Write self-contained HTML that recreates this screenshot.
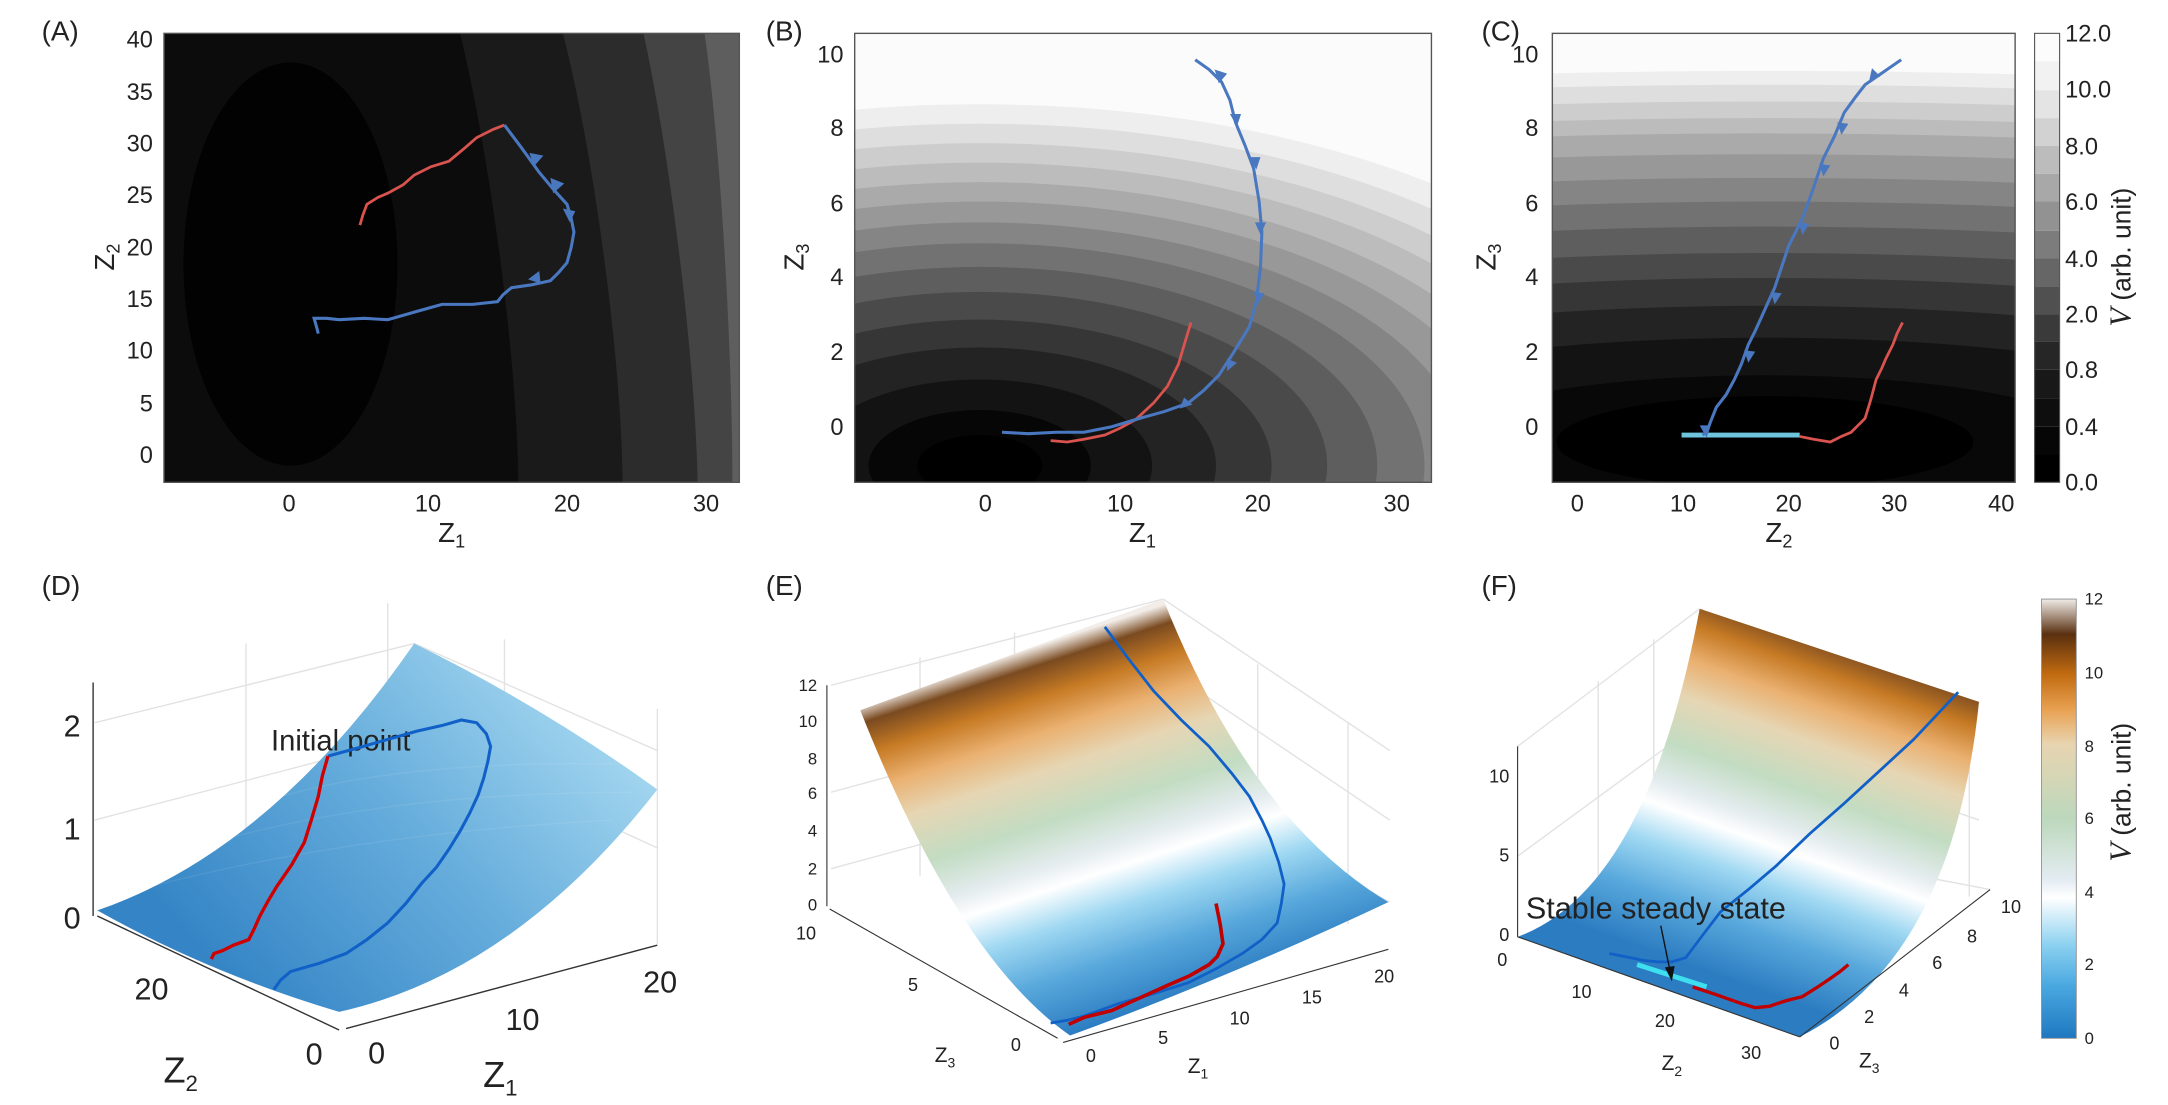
<!DOCTYPE html>
<html><head><meta charset="utf-8"><style>html,body{margin:0;padding:0;background:#fff}svg{display:block}text{font-family:"Liberation Sans Narrow","Liberation Sans",sans-serif;fill:#222}</style></head><body>
<svg width="2168" height="1105" viewBox="0 0 1560 795" preserveAspectRatio="none" xmlns="http://www.w3.org/2000/svg">
<defs>
<clipPath id="ca"><rect x="118" y="24" width="414" height="323"/></clipPath>
<clipPath id="cb"><rect x="615" y="24" width="415" height="323"/></clipPath>
<clipPath id="cc"><rect x="1117" y="24" width="333" height="323"/></clipPath>
<linearGradient id="gd" gradientUnits="userSpaceOnUse" x1="420" y1="480" x2="170" y2="710"><stop offset="0" stop-color="#a9daf1"/><stop offset="0.5" stop-color="#66addc"/><stop offset="1" stop-color="#3585c6"/></linearGradient>
<linearGradient id="ge" gradientUnits="userSpaceOnUse" x1="745" y1="465" x2="830" y2="725"><stop offset="0" stop-color="#f2ede8"/><stop offset="0.05" stop-color="#7a4a20"/><stop offset="0.13" stop-color="#c67a24"/><stop offset="0.22" stop-color="#eab070"/><stop offset="0.32" stop-color="#e6d6b4"/><stop offset="0.45" stop-color="#c2dcc2"/><stop offset="0.56" stop-color="#e4ecef"/><stop offset="0.62" stop-color="#ffffff"/><stop offset="0.72" stop-color="#9fd8f2"/><stop offset="0.85" stop-color="#58a8dc"/><stop offset="1" stop-color="#2c7cc2"/></linearGradient>
<linearGradient id="gf" gradientUnits="userSpaceOnUse" x1="1335" y1="455" x2="1245" y2="705"><stop offset="0" stop-color="#f2ede8"/><stop offset="0.05" stop-color="#7a4a20"/><stop offset="0.13" stop-color="#c67a24"/><stop offset="0.22" stop-color="#eab070"/><stop offset="0.32" stop-color="#e6d6b4"/><stop offset="0.45" stop-color="#c2dcc2"/><stop offset="0.56" stop-color="#e4ecef"/><stop offset="0.62" stop-color="#ffffff"/><stop offset="0.72" stop-color="#9fd8f2"/><stop offset="0.85" stop-color="#58a8dc"/><stop offset="1" stop-color="#2c7cc2"/></linearGradient>
<linearGradient id="gcb" x1="0" y1="0" x2="0" y2="1"><stop offset="0" stop-color="#f0ece8"/><stop offset="0.08" stop-color="#5a3010"/><stop offset="0.17" stop-color="#c06a10"/><stop offset="0.25" stop-color="#e8a050"/><stop offset="0.33" stop-color="#e8d4b0"/><stop offset="0.5" stop-color="#bcd8bc"/><stop offset="0.64" stop-color="#e4ecf2"/><stop offset="0.68" stop-color="#ffffff"/><stop offset="0.79" stop-color="#8ad0f0"/><stop offset="0.88" stop-color="#4aa8e0"/><stop offset="1" stop-color="#1f78c0"/></linearGradient>
</defs>

<!-- Panel A -->
<text x="30" y="29" font-size="20">(A)</text>
<g clip-path="url(#ca)">
<rect x="118" y="24" width="414" height="323" fill="#0c0c0c"/>
<ellipse cx="209" cy="190" rx="77" ry="145" fill="#020202"/>
<path d="M331,24 C350,100 372,250 373,347 L540,347 L540,24Z" fill="#1a1a1a"/>
<path d="M405,24 C425,100 447,250 448,347 L540,347 L540,24Z" fill="#2c2c2c"/>
<path d="M463,24 C480,100 500,250 502,347 L540,347 L540,24Z" fill="#444"/>
<path d="M507,24 C518,100 527,250 527,347 L540,347 L540,24Z" fill="#5e5e5e"/>
</g>
<rect x="118" y="24" width="414" height="323" fill="none" stroke="#555" stroke-width="1"/>
<g font-size="17" text-anchor="end"><text x="110" y="34">40</text><text x="110" y="72">35</text><text x="110" y="109">30</text><text x="110" y="146">25</text><text x="110" y="184">20</text><text x="110" y="221">15</text><text x="110" y="258">10</text><text x="110" y="296">5</text><text x="110" y="333">0</text></g>
<g font-size="17" text-anchor="middle"><text x="208" y="368">0</text><text x="308" y="368">10</text><text x="408" y="368">20</text><text x="508" y="368">30</text></g>
<text x="325" y="390" font-size="20" text-anchor="middle">Z<tspan font-size="13" dy="4">1</tspan></text>
<text transform="translate(82,185) rotate(-90)" font-size="20" text-anchor="middle">Z<tspan font-size="13" dy="4">2</tspan></text>
<polyline fill="none" stroke="#d9534f" stroke-width="2" points="363,90 355,93 343,99 335,106 323,116 310,120 298,126 290,133 279,139 272,142 264,147 261,155 259,162"/>
<polyline fill="none" stroke="#4a78c0" stroke-width="2.2" points="363,90 375,106 388,124 398,136 408,147 411,157 413,167 411,178 408,189 402,196 396,202 382,205 368,207 362,212 358,217 340,219 318,219 300,224 279,230 262,229 244,230 235,229 226,229 228,236 229,240"/>
<g fill="#4a78c0"><path d="M381,110 l10,2 -7,8z"/><path d="M396,128 l10,4 -8,7z"/><path d="M405,150 l9,2 -4,8z"/><path d="M380,201 l8,-6 1,9z"/></g>

<!-- Panel B -->
<text x="551" y="29" font-size="20">(B)</text>
<g clip-path="url(#cb)">
<rect x="615" y="24" width="415" height="323" fill="#fbfbfb"/>
<g transform="translate(705,335)">
<ellipse rx="520" ry="260" fill="#eeeeee"/><ellipse rx="492" ry="246" fill="#dedede"/><ellipse rx="464" ry="232" fill="#cdcdcd"/><ellipse rx="436" ry="218" fill="#bcbcbc"/><ellipse rx="408" ry="204" fill="#aaaaaa"/><ellipse rx="380" ry="190" fill="#989898"/><ellipse rx="350" ry="175" fill="#858585"/><ellipse rx="320" ry="160" fill="#727272"/><ellipse rx="286" ry="143" fill="#5e5e5e"/><ellipse rx="250" ry="125" fill="#4a4a4a"/><ellipse rx="210" ry="105" fill="#363636"/><ellipse rx="170" ry="85" fill="#232323"/><ellipse rx="124" ry="62" fill="#131313"/><ellipse rx="80" ry="40" fill="#060606"/><ellipse rx="45" ry="22" fill="#000"/>
</g></g>
<rect x="615" y="24" width="415" height="323" fill="none" stroke="#555" stroke-width="1"/>
<g font-size="17" text-anchor="end"><text x="607" y="45">10</text><text x="607" y="98">8</text><text x="607" y="152">6</text><text x="607" y="205">4</text><text x="607" y="259">2</text><text x="607" y="313">0</text></g>
<g font-size="17" text-anchor="middle"><text x="709" y="368">0</text><text x="806" y="368">10</text><text x="905" y="368">20</text><text x="1005" y="368">30</text></g>
<text x="822" y="390" font-size="20" text-anchor="middle">Z<tspan font-size="13" dy="4">1</tspan></text>
<text transform="translate(578,185) rotate(-90)" font-size="20" text-anchor="middle">Z<tspan font-size="13" dy="4">3</tspan></text>
<polyline fill="none" stroke="#d9534f" stroke-width="2" points="857,232 853,245 848,262 840,278 830,290 817,302 806,308 795,313 780,316 768,318 756,317"/>
<polyline fill="none" stroke="#4a78c0" stroke-width="2.2" points="860,43 870,50 879,59 885,72 889,88 896,105 902,121 906,145 908,167 907,192 904,217 899,235 888,253 877,270 866,281 855,290 838,296 820,301 800,307 780,311 760,311 740,312 721,311"/>
<g fill="#4a78c0"><path d="M874,50 l9,3 -6,7z"/><path d="M885,82 l8,0 -3,9z"/><path d="M899,113 l8,0 -3,9z"/><path d="M903,160 l8,0 -4,9z"/><path d="M902,210 l8,1 -5,8z"/><path d="M883,258 l7,3 -7,6z"/><path d="M852,286 l6,5 -9,3z"/></g>

<!-- Panel C -->
<text x="1066" y="29" font-size="20">(C)</text>
<g clip-path="url(#cc)">
<rect x="1117" y="24" width="333" height="323" fill="#fbfbfb"/>
<g transform="translate(1270,318)">
<ellipse rx="1335" ry="267" fill="#eeeeee"/><ellipse rx="1285" ry="257" fill="#dedede"/><ellipse rx="1225" ry="245" fill="#cdcdcd"/><ellipse rx="1165" ry="233" fill="#bcbcbc"/><ellipse rx="1110" ry="222" fill="#aaaaaa"/><ellipse rx="1035" ry="207" fill="#989898"/><ellipse rx="950" ry="190" fill="#858585"/><ellipse rx="865" ry="173" fill="#727272"/><ellipse rx="775" ry="155" fill="#5e5e5e"/><ellipse rx="680" ry="136" fill="#4a4a4a"/><ellipse rx="590" ry="118" fill="#363636"/><ellipse rx="490" ry="98" fill="#232323"/><ellipse rx="375" ry="75" fill="#131313"/><ellipse rx="240" ry="48" fill="#080808"/><ellipse rx="150" ry="33" fill="#000"/>
</g></g>
<rect x="1117" y="24" width="333" height="323" fill="none" stroke="#555" stroke-width="1"/>
<g font-size="17" text-anchor="end"><text x="1107" y="45">10</text><text x="1107" y="98">8</text><text x="1107" y="152">6</text><text x="1107" y="205">4</text><text x="1107" y="259">2</text><text x="1107" y="313">0</text></g>
<g font-size="17" text-anchor="middle"><text x="1135" y="368">0</text><text x="1211" y="368">10</text><text x="1287" y="368">20</text><text x="1363" y="368">30</text><text x="1440" y="368">40</text></g>
<text x="1280" y="390" font-size="20" text-anchor="middle">Z<tspan font-size="13" dy="4">2</tspan></text>
<text transform="translate(1076,185) rotate(-90)" font-size="20" text-anchor="middle">Z<tspan font-size="13" dy="4">3</tspan></text>
<line x1="1210" y1="313" x2="1295" y2="313" stroke="#6ec4dc" stroke-width="3.5"/>
<polyline fill="none" stroke="#d9534f" stroke-width="2" points="1295,314 1305,316 1317,318 1325,314 1332,311 1338,305 1342,301 1346,288 1350,273 1354,265 1357,258 1362,248 1365,240 1369,232"/>
<polyline fill="none" stroke="#4a78c0" stroke-width="2.2" points="1368,43 1355,52 1342,61 1335,70 1327,81 1320,98 1312,114 1305,135 1297,157 1292,167 1287,177 1282,192 1277,207 1272,218 1268,227 1263,238 1258,248 1253,262 1248,273 1242,284 1235,293 1231,303 1228,311 1225,313"/>
<g fill="#4a78c0"><path d="M1345,58 l2,-9 6,6z"/><path d="M1322,88 l8,1 -5,8z"/><path d="M1309,118 l8,1 -5,8z"/><path d="M1294,160 l8,1 -5,8z"/><path d="M1274,210 l8,1 -5,8z"/><path d="M1255,252 l8,1 -5,8z"/><path d="M1223,306 l8,0 -3,9z"/></g>
<!-- colorbar C -->
<g>
<rect x="1464" y="24" width="18" height="20" fill="#fcfcfc"/><rect x="1464" y="44" width="18" height="21" fill="#f2f2f2"/><rect x="1464" y="65" width="18" height="20" fill="#e4e4e4"/><rect x="1464" y="85" width="18" height="20" fill="#d2d2d2"/><rect x="1464" y="105" width="18" height="20" fill="#bcbcbc"/><rect x="1464" y="125" width="18" height="20" fill="#a8a8a8"/><rect x="1464" y="145" width="18" height="21" fill="#929292"/><rect x="1464" y="166" width="18" height="20" fill="#7c7c7c"/><rect x="1464" y="186" width="18" height="20" fill="#666"/><rect x="1464" y="206" width="18" height="20" fill="#505050"/><rect x="1464" y="226" width="18" height="20" fill="#3a3a3a"/><rect x="1464" y="246" width="18" height="20" fill="#262626"/><rect x="1464" y="266" width="18" height="21" fill="#181818"/><rect x="1464" y="287" width="18" height="20" fill="#0e0e0e"/><rect x="1464" y="307" width="18" height="20" fill="#060606"/><rect x="1464" y="327" width="18" height="20" fill="#000"/>
<rect x="1464" y="24" width="18" height="323" fill="none" stroke="#555" stroke-width="0.8"/>
</g>
<g font-size="17"><text x="1486" y="30">12.0</text><text x="1486" y="70">10.0</text><text x="1486" y="111">8.0</text><text x="1486" y="151">6.0</text><text x="1486" y="192">4.0</text><text x="1486" y="232">2.0</text><text x="1486" y="272">0.8</text><text x="1486" y="313">0.4</text><text x="1486" y="353">0.0</text></g>
<text transform="translate(1533,185) rotate(-90)" font-size="19" text-anchor="middle" style="font-family:'Liberation Sans',sans-serif"><tspan font-family="Liberation Serif" font-style="italic" font-size="22">V</tspan> (arb. unit)</text>

<!-- Panel D -->
<text x="30" y="428" font-size="20">(D)</text>
<g stroke="#e2e2e2" stroke-width="1" fill="none">
<line x1="177" y1="463" x2="177" y2="615"/><line x1="279" y1="434" x2="279" y2="560"/><line x1="363" y1="460" x2="363" y2="600"/><line x1="473" y1="510" x2="473" y2="679"/>
<line x1="68" y1="520" x2="298" y2="463"/><line x1="68" y1="590" x2="298" y2="530"/><line x1="298" y1="463" x2="473" y2="540"/><line x1="298" y1="530" x2="473" y2="610"/>
</g>
<path d="M70,655 Q195,612 298,463 Q390,508 473,568 Q370,700 244,728 Q150,700 70,655Z" fill="url(#gd)"/>
<g stroke="#fff" stroke-opacity="0.08" stroke-width="1" fill="none"><path d="M100,640 Q250,600 440,590"/><path d="M140,610 Q270,570 455,570"/><path d="M180,580 Q280,545 460,550"/></g>
<line x1="67" y1="491" x2="67" y2="659" stroke="#333" stroke-width="1"/>
<g font-size="22" text-anchor="end"><text x="58" y="530">2</text><text x="58" y="604">1</text><text x="58" y="668">0</text></g>
<line x1="70" y1="659" x2="244" y2="741" stroke="#333" stroke-width="1"/>
<line x1="249" y1="740" x2="473" y2="680" stroke="#333" stroke-width="1"/>
<g font-size="22" text-anchor="middle"><text x="109" y="719">20</text><text x="226" y="766">0</text><text x="271" y="765">0</text><text x="376" y="741">10</text><text x="475" y="714">20</text></g>
<text x="130" y="779" font-size="26" text-anchor="middle">Z<tspan font-size="16" dy="6">2</tspan></text>
<text x="360" y="782" font-size="26" text-anchor="middle">Z<tspan font-size="16" dy="6">1</tspan></text>
<text x="195" y="540" font-size="21" style="font-family:'Liberation Sans Narrow','Liberation Sans',sans-serif" fill="#111">Initial point</text>
<polyline fill="none" stroke="#1060c8" stroke-width="2.2" points="236,544 258,538 279,532 300,526 318,522 332,518 343,520 350,528 353,537 351,548 348,560 344,572 338,585 331,598 323,611 314,624 303,636 292,650 279,664 264,676 249,686 230,693 209,699 202,705 197,712"/>
<polyline fill="none" stroke="#d00000" stroke-width="2.4" points="236,544 232,558 229,573 224,590 219,606 210,622 199,638 193,648 187,659 183,668 179,676 168,680 160,684 154,686 152,690"/>

<!-- Panel E -->
<text x="551" y="428" font-size="20">(E)</text>
<g stroke="#e2e2e2" stroke-width="1" fill="none">
<line x1="598" y1="493" x2="837" y2="431"/><line x1="598" y1="625" x2="837" y2="560"/><line x1="598" y1="570" x2="837" y2="505"/>
<line x1="837" y1="431" x2="1000" y2="540"/><line x1="837" y1="480" x2="1000" y2="590"/><line x1="837" y1="560" x2="1000" y2="649"/>
<line x1="662" y1="473" x2="662" y2="630"/><line x1="730" y1="455" x2="730" y2="610"/><line x1="970" y1="520" x2="970" y2="665"/><line x1="905" y1="478" x2="905" y2="620"/>
</g>
<path d="M619,511 L837,431 Q900,590 999,649 Q880,705 770,745 Q690,690 619,511Z" fill="url(#ge)"/>
<line x1="595" y1="493" x2="595" y2="652" stroke="#333" stroke-width="0.8"/>
<g font-size="12" text-anchor="end"><text x="588" y="497">12</text><text x="588" y="523">10</text><text x="588" y="550">8</text><text x="588" y="575">6</text><text x="588" y="602">4</text><text x="588" y="629">2</text><text x="588" y="655">0</text></g>
<line x1="597" y1="654" x2="761" y2="747" stroke="#333" stroke-width="0.8"/>
<line x1="765" y1="750" x2="999" y2="683" stroke="#333" stroke-width="0.8"/>
<g font-size="13" text-anchor="middle"><text x="580" y="676">10</text><text x="657" y="713">5</text><text x="731" y="756">0</text><text x="785" y="764">0</text><text x="837" y="751">5</text><text x="892" y="737">10</text><text x="944" y="722">15</text><text x="996" y="707">20</text></g>
<text x="680" y="764" font-size="15" text-anchor="middle">Z<tspan font-size="10" dy="4">3</tspan></text>
<text x="862" y="772" font-size="15" text-anchor="middle">Z<tspan font-size="10" dy="4">1</tspan></text>
<polyline fill="none" stroke="#1060c8" stroke-width="2" points="795,451 812,474 830,497 850,518 870,537 886,556 899,573 908,590 914,603 920,620 924,636 922,650 919,664 908,676 894,686 875,697 855,707 830,715 805,722 780,731 768,734 756,736"/>
<polyline fill="none" stroke="#c00000" stroke-width="2.6" points="875,650 878,665 880,679 876,688 870,694 856,702 840,709 820,718 800,727 780,732 769,737"/>

<!-- Panel F -->
<text x="1066" y="428" font-size="20">(F)</text>
<g stroke="#e2e2e2" stroke-width="1" fill="none">
<line x1="1092" y1="537" x2="1223" y2="438"/><line x1="1092" y1="616" x2="1223" y2="520"/><line x1="1223" y1="520" x2="1424" y2="590"/><line x1="1223" y1="600" x2="1432" y2="640"/>
<line x1="1150" y1="490" x2="1150" y2="640"/><line x1="1190" y1="460" x2="1190" y2="620"/><line x1="1225" y1="438" x2="1225" y2="600"/><line x1="1417" y1="510" x2="1417" y2="645"/>
</g>
<path d="M1092,674 Q1185,640 1223,438 L1424,505 Q1405,690 1295,746 Z" fill="url(#gf)"/>
<line x1="1092" y1="537" x2="1092" y2="674" stroke="#333" stroke-width="0.8"/>
<g font-size="13" text-anchor="end"><text x="1086" y="563">10</text><text x="1086" y="620">5</text><text x="1086" y="677">0</text></g>
<line x1="1092" y1="674" x2="1295" y2="746" stroke="#333" stroke-width="0.8"/>
<line x1="1295" y1="746" x2="1432" y2="640" stroke="#333" stroke-width="0.8"/>
<g font-size="13" text-anchor="middle"><text x="1081" y="695">0</text><text x="1138" y="718">10</text><text x="1198" y="739">20</text><text x="1260" y="762">30</text><text x="1320" y="755">0</text><text x="1345" y="736">2</text><text x="1370" y="717">4</text><text x="1394" y="697">6</text><text x="1419" y="678">8</text><text x="1447" y="657">10</text></g>
<text x="1203" y="770" font-size="15" text-anchor="middle">Z<tspan font-size="10" dy="4">2</tspan></text>
<text x="1345" y="768" font-size="15" text-anchor="middle">Z<tspan font-size="10" dy="4">3</tspan></text>
<line x1="1178" y1="694" x2="1228" y2="710" stroke="#3ee0f0" stroke-width="3.5"/>
<polyline fill="none" stroke="#1060c8" stroke-width="2" points="1409,498 1393,515 1377,532 1352,555 1327,578 1302,600 1278,623 1258,640 1238,656 1225,673 1213,689 1203,692 1193,692 1183,691 1173,689 1158,686"/>
<polyline fill="none" stroke="#c00000" stroke-width="2.4" points="1218,710 1236,716 1253,722 1263,725 1273,724 1285,720 1297,717 1308,710 1317,704 1324,699 1330,694"/>
<text x="1098" y="661" font-size="22" fill="#111" style="font-family:'Liberation Sans Narrow','Liberation Sans',sans-serif">Stable steady state</text>
<line x1="1195" y1="666" x2="1202" y2="700" stroke="#111" stroke-width="1"/>
<path d="M1203,706 l-5,-10 7,-1z" fill="#111"/>
<!-- colorbar F -->
<rect x="1469" y="431" width="25" height="316" fill="url(#gcb)" stroke="#888" stroke-width="0.6"/>
<g font-size="12"><text x="1500" y="435">12</text><text x="1500" y="488">10</text><text x="1500" y="541">8</text><text x="1500" y="593">6</text><text x="1500" y="646">4</text><text x="1500" y="698">2</text><text x="1500" y="751">0</text></g>
<text transform="translate(1533,570) rotate(-90)" font-size="19" text-anchor="middle" style="font-family:'Liberation Sans',sans-serif"><tspan font-family="Liberation Serif" font-style="italic" font-size="22">V</tspan> (arb. unit)</text>
</svg>
</body></html>
